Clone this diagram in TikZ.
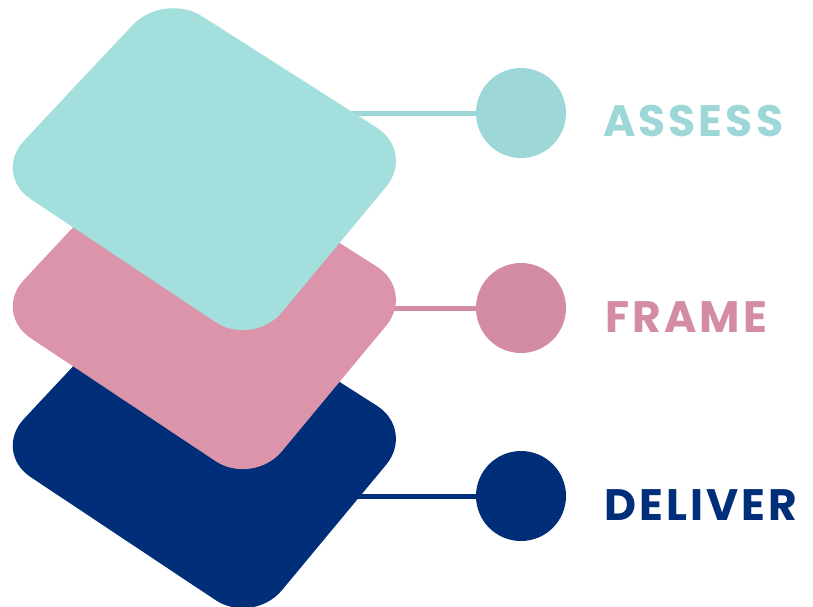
\documentclass[tikz,border=0pt]{standalone}
\usepackage{fontspec}
\setmainfont{Poppins}
\newfontfamily\stagefont{Poppins}[LetterSpace=7]

\definecolor{assesslayer}{HTML}{A3DFDD}
\definecolor{assessdot}{HTML}{9DD7D7}
\definecolor{framelayer}{HTML}{DB94A9}
\definecolor{framedot}{HTML}{D48CA2}
\definecolor{deliverblue}{HTML}{002E78}

% one rounded layer of the stack, shifted down by #1
\newcommand{\stacklayer}[2]{%
   \fill[#2, rounded corners=45pt, shift={(0,#1)}]
      (78,83) -- (164,-8) -- (415,152) -- (253,347) -- (-7,174) -- cycle;
}

\begin{document}
\begin{tikzpicture}[x=1pt,y=-1pt,
   dot/.style={circle, minimum size=90pt, inner sep=0pt},
   stagetext/.style={anchor=base west, inner sep=0pt, font=\stagefont\bfseries\fontsize{44}{44}\selectfont},
   link/.style={line width=5pt}]

   \useasboundingbox (0,0) rectangle (813,606);

   \node[dot, fill=assessdot] (assess) at (521,113) {};
   \node[dot, fill=framedot] (frame) at (521,308) {};
   \node[dot, fill=deliverblue] (deliver) at (521,496) {};

   \node[stagetext, text=assessdot] (assesstext) at (603,136) {ASSESS};
   \node[stagetext, text=framedot] (frametext) at (605,332) {FRAME};
   \node[stagetext, text=deliverblue] (delivertext) at (604,520) {DELIVER};

   \coordinate (assessend) at (300,113);
   \coordinate (frameend) at (300,308);
   \coordinate (deliverend) at (300,496);

   \draw[link, assessdot] (assessend) -- (assess);
   \draw[link, framedot] (frameend) -- (frame);
   \draw[link, deliverblue] (deliverend) -- (deliver);

   \stacklayer{278}{deliverblue}
   \stacklayer{139}{framelayer}
   \stacklayer{0}{assesslayer}

\end{tikzpicture}
\end{document}
